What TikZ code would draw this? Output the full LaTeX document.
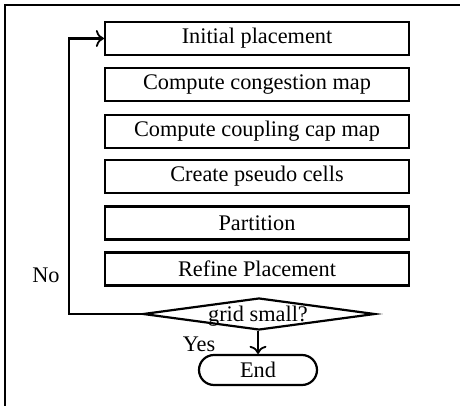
\documentclass[tikz,border=0pt]{standalone}
\usepackage{fontspec}
\setmainfont{Liberation Serif}
\usetikzlibrary{shapes.geometric,shapes.misc,arrows.meta}
\begin{document}
\begin{tikzpicture}[x=1pt,y=-1pt,
  every node/.style={font=\fontsize{22.3}{26}\selectfont},
  stepbox/.style={draw,line width=2.2pt,minimum width=304pt,minimum height=33pt,inner sep=0pt},
  conn/.style={line width=2.2pt},
  arr/.style={conn,-{To[length=8pt,width=17pt,line width=1.8pt]}}]
\useasboundingbox (0,0) rectangle (460,406);
\draw[line width=2.6pt] (5,406) -- (5,5) -- (460,5);
\node[stepbox] (b1) at (257,38.5) {Initial placement};
\node[stepbox] (b2) at (257,84.5) {Compute congestion map};
\node[stepbox] (b3) at (257,131.5) {Compute coupling cap map};
\node[stepbox] (b4) at (257,176.5) {Create pseudo cells};
\node[stepbox] (b5) at (257,223) {Partition};
\node[stepbox] (b6) at (257,269) {Refine Placement};
\node[diamond,draw,line width=2.2pt,minimum width=232pt,minimum height=32pt,inner sep=0pt] (d) at (259,314) {};
\node (dt) at (258,316) {grid small?};
\node[rounded rectangle,draw,line width=2.2pt,minimum width=118pt,minimum height=30pt,inner sep=0pt] (e) at (258,370) {End};
\coordinate (lc) at (69,314);
\draw[arr] (d.west) -- (lc) |- (b1.west);
\draw[arr] (d.south -| e.north) -- (e.north);
\node (no) at (46,275) {No};
\node (yes) at (199,344) {Yes};
\end{tikzpicture}
\end{document}
